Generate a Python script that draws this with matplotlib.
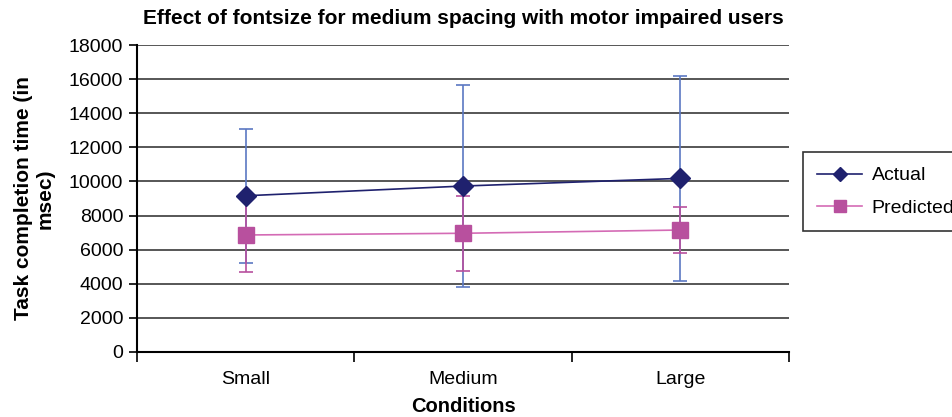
import matplotlib.pyplot as plt
import numpy as np

plt.rcParams['font.family'] = ['Liberation Sans', 'DejaVu Sans']

# conditions on the x axis
conditions = ['Small', 'Medium', 'Large']

# task completion times (msec)
actual = [9160, 9730, 10180]
actual_err = [3940, 5950, 6010]
predicted = [6860, 6960, 7150]
predicted_err = [2190, 2200, 1365]

yticks = [0, 2000, 4000, 6000, 8000, 10000, 12000, 14000, 16000, 18000]

fig = plt.figure(figsize=(9.53, 4.17), dpi=100)
ax = fig.add_axes([0.1438, 0.156, 0.6842, 0.736])

x = np.arange(len(conditions)) + 0.5

#error bars first so markers sit on top
ax.errorbar(x, actual, yerr=actual_err, fmt='none', ecolor='#5B78C2',
            elinewidth=1.2, capsize=5, capthick=1.2, zorder=3)
ax.errorbar(x, predicted, yerr=predicted_err, fmt='none', ecolor='#B8509E',
            elinewidth=1.2, capsize=5, capthick=1.2, zorder=4)

ax.plot(x, actual, color='#1F216E', marker='D', markersize=10, lw=1.2,
        label='Actual', zorder=5)
ax.plot(x, predicted, color='#D46BB5', marker='s', markersize=11, lw=1.2,
        markerfacecolor='#B8509E', markeredgecolor='#B8509E',
        label='Predicted', zorder=5)

ax.set_xlim(0, 3)
ax.set_ylim(0, 18000)
ax.set_yticks(yticks)
ax.set_yticklabels([str(v) for v in yticks], fontsize=14)
ax.yaxis.grid(True, color='#3a3a3a', lw=1.2)
ax.set_axisbelow(True)

#labels at centers, tick marks at category borders
ax.set_xticks(x)
ax.set_xticklabels(conditions, fontsize=14)
ax.tick_params(axis='x', which='major', length=0, pad=14)
ax.set_xticks([0, 1, 2, 3], minor=True)
ax.tick_params(axis='x', which='minor', length=7, width=1.2, direction='out')
ax.tick_params(axis='y', length=6, width=1.2, direction='out', pad=4)

for s in ['top', 'right']:
    ax.spines[s].set_visible(False)
for s in ['left', 'bottom']:
    ax.spines[s].set_linewidth(1.5)

ax.set_title('Effect of fontsize for medium spacing with motor impaired users',
             fontsize=15, fontweight='bold', pad=15)
ax.set_xlabel('Conditions', fontsize=14.5, fontweight='bold', labelpad=6)
ax.set_ylabel('Task completion time (in\nmsec)', fontsize=15, fontweight='bold',
              labelpad=10)

leg = ax.legend(loc='upper left', bbox_to_anchor=(1.021, 0.651), fontsize=14,
                frameon=True, fancybox=False, edgecolor='black',
                handlelength=2.3, handletextpad=0.5, borderpad=0.75,
                labelspacing=0.75, markerscale=0.75, borderaxespad=0)
leg.get_frame().set_linewidth(1.2)

fig.savefig('out.png', dpi=100)
